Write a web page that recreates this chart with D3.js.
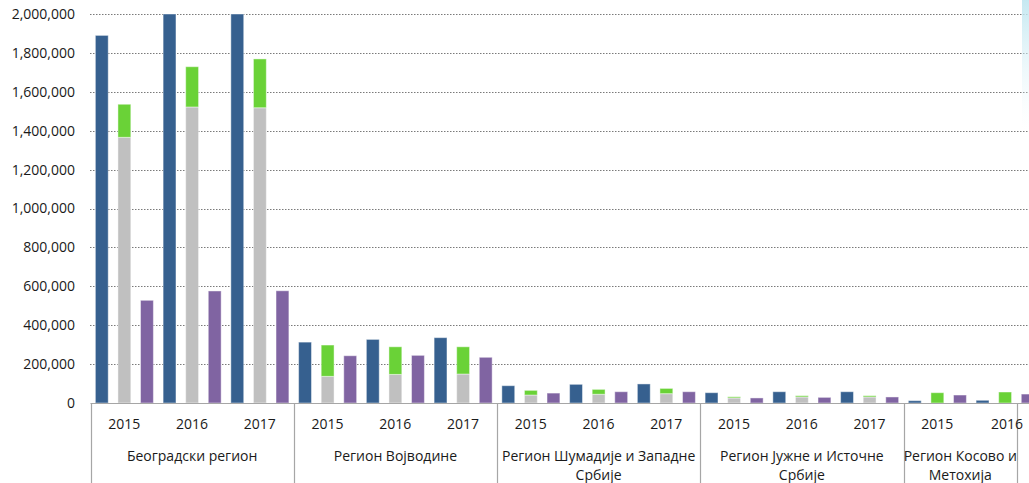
<!DOCTYPE html>
<html>
<head>
<meta charset="utf-8">
<script src="https://cdn.jsdelivr.net/npm/d3@7"></script>
<style>
  html, body { margin: 0; padding: 0; background: #fff; }
  svg { display: block; }
  text { font-family: "Open Sans", "Noto Sans", sans-serif; fill: #1a1a1a; }
</style>
</head>
<body>
<svg id="chart" width="1029" height="483"></svg>
<script>
// ---- Data ----
const regions = [
  ["Београдски регион"],
  ["Регион Војводине"],
  ["Регион Шумадије и Западне", "Србије"],
  ["Регион Јужне и Источне", "Србије"],
  ["Регион Косово и", "Метохија"]
];
const years = ["2015", "2016", "2017"];
// blue series, one value per region x year (null = not visible)
const blueValues = [
  1890000, 2000000, 2000000,
  313000, 327000, 336000,
  89000, 96000, 98000,
  53000, 58000, 58000,
  12000, 14000, null
];
// gray (lower stacked part)
const grayValues = [
  1366000, 1522000, 1518000,
  137000, 147000, 149000,
  41000, 45000, 48000,
  26000, 31000, 31000,
  0, 0, null
];
// green (upper stacked part)
const greenValues = [
  170000, 207000, 251000,
  161000, 142000, 140000,
  24000, 25000, 27000,
  6000, 6500, 6500,
  53000, 56500, null
];
// purple series
const purpleValues = [
  528000, 576000, 577000,
  243000, 245000, 235000,
  51000, 58000, 58000,
  26000, 29000, 31000,
  41000, 46000, null
];
const yTicks = [0, 200000, 400000, 600000, 800000, 1000000, 1200000, 1400000, 1600000, 1800000, 2000000];

const colors = { blue: "#36608f", gray: "#c0c0c0", green: "#6ad237", purple: "#8064a2" };

// ---- Layout ----
const W = 1029, H = 483;
const left = 90.5, slotW = 67.75;
const baseY = 403, topY = 14;
const visibleRight = 1017; // category axis end visible in picture

const slots = [];
regions.forEach((r, ri) => years.forEach((y, yi) => slots.push({ key: ri + "-" + y, region: ri, year: y, i: ri * 3 + yi })));

const svg = d3.select("#chart");

const x = d3.scaleBand().domain(slots.map(s => s.key)).range([left, left + slots.length * slotW]).padding(0);
const xi = d3.scaleBand().domain(["a", "b", "c"]).range([0, x.bandwidth()]).paddingInner(0.43).paddingOuter(0.215);
const y = d3.scaleLinear().domain([0, 2000000]).range([baseY, topY]).clamp(true);

// gridlines
const grid = svg.append("g");
grid.selectAll("line").data(yTicks.filter(t => t > 0)).join("line")
  .attr("x1", left - 0.5).attr("x2", W)
  .attr("y1", d => Math.round(y(d)) + 0.5).attr("y2", d => Math.round(y(d)) + 0.5)
  .attr("stroke", "#7a7a7a").attr("stroke-width", 1).attr("stroke-dasharray", "1.5,1.5");

// y axis (labels only)
const yAxis = d3.axisLeft(y).tickValues(yTicks).tickSize(0).tickPadding(0)
  .tickFormat(d3.format(","));
const yg = svg.append("g").attr("transform", "translate(75,0)").call(yAxis);
yg.select(".domain").remove();
yg.selectAll("text").attr("font-size", 14).attr("font-family", "Open Sans, Noto Sans, sans-serif").attr("fill", "#1a1a1a");

// bars
const bars = svg.append("g");
const edge = { stroke: "#ffffff", "stroke-opacity": 0.45, "stroke-width": 1 };
function addBar(sx, v0, v1, color) {
  if (v1 == null || v1 - v0 <= 0) return;
  const r = bars.append("rect")
    .attr("x", sx).attr("width", xi.bandwidth())
    .attr("y", y(v1)).attr("height", y(v0) - y(v1))
    .attr("fill", color);
  Object.entries(edge).forEach(([k, v]) => r.attr(k, v));
}
slots.forEach(s => {
  const sx = x(s.key);
  const b = blueValues[s.i], g = grayValues[s.i], gr = greenValues[s.i], p = purpleValues[s.i];
  if (b != null) addBar(sx + xi("a"), 0, b, colors.blue);
  if (g != null) addBar(sx + xi("b"), 0, g, colors.gray);
  if (gr != null) addBar(sx + xi("b"), g || 0, (g || 0) + gr, colors.green);
  if (p != null) addBar(sx + xi("c"), 0, p, colors.purple);
});

// category axis line
svg.append("line").attr("x1", left).attr("x2", W).attr("y1", baseY + 0.5).attr("y2", baseY + 0.5)
  .attr("stroke", "#a6a6a6").attr("stroke-width", 1.2);

// region dividers
const dividers = regions.map((r, ri) => x(ri + "-2015"));
dividers.push(visibleRight);
svg.append("g").selectAll("line").data(dividers).join("line")
  .attr("x1", d => Math.round(d) + 0.5).attr("x2", d => Math.round(d) + 0.5)
  .attr("y1", baseY).attr("y2", H)
  .attr("stroke", "#a6a6a6").attr("stroke-width", 1.2);

// year labels (only those whose slot is visible)
svg.append("g").selectAll("text").data(slots.filter(s => x(s.key) + x.bandwidth() / 2 < W - 10)).join("text")
  .attr("x", s => x(s.key) + x.bandwidth() / 2 + (s.i === 13 ? 2 : 0)).attr("y", 429)
  .attr("text-anchor", "middle").attr("font-size", 14)
  .text(s => s.year);

// region labels
regions.forEach((lines, ri) => {
  const x0 = x(ri + "-2015");
  const x1 = Math.min(x(ri + "-2017") + x.bandwidth(), visibleRight);
  const cx = (x0 + x1) / 2;
  const t = svg.append("text").attr("text-anchor", "middle").attr("font-size", 14);
  lines.forEach((ln, li) => t.append("tspan").attr("x", cx).attr("y", 461 + li * 19).text(ln));
});

// faint light-blue element at top right edge
const defs = svg.append("defs");
const lg = defs.append("linearGradient").attr("id", "fade").attr("x1", 0).attr("x2", 0).attr("y1", 0).attr("y2", 1);
lg.append("stop").attr("offset", 0).attr("stop-color", "#bfe6f0").attr("stop-opacity", 0.9);
lg.append("stop").attr("offset", 1).attr("stop-color", "#eaf7fb").attr("stop-opacity", 0);
svg.append("rect").attr("x", 1022).attr("y", 0).attr("width", 7).attr("height", 130).attr("fill", "url(#fade)");
</script>
</body>
</html>
